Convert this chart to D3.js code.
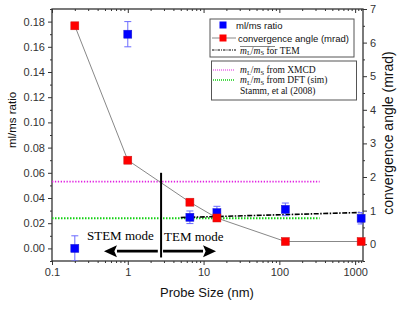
<!DOCTYPE html>
<html><head><meta charset="utf-8">
<script src="https://cdn.jsdelivr.net/npm/d3@7"></script>
<style>body{margin:0;background:#fff}svg{display:block}</style>
</head><body>
<script>
// ---- data ----
const probeSize = [0.2, 1, 6.6, 15, 120, 1200];
const ratio = [0.000, 0.170, 0.0247, 0.0284, 0.031, 0.0239];
const ratioErr = [0.010, 0.010, 0.005, 0.005, 0.005, 0.0045];
const convAngle = [6.5, 2.5, 1.25, 0.78, 0.08, 0.08];
const temFitX = [5, 1200];
const temFitY = [0.0245, 0.0285];
const xmcdValue = 0.053;
const dftValue = 0.024;
const refLineX = [0.1, 340];
const modeBoundary = 2.75;
const xTickLabels = ["0.1", "1", "10", "100", "1000"];
const leftTicks = [0, 0.02, 0.04, 0.06, 0.08, 0.10, 0.12, 0.14, 0.16, 0.18];
const rightTicks = [0, 1, 2, 3, 4, 5, 6, 7];

const W = 397, H = 309;
const L = 52, R = 363, T = 9, B = 261;
const svg = d3.select("body").append("svg").attr("width", W).attr("height", H);
const sans = "'Liberation Sans', Arial, sans-serif";
const serif = "'Liberation Serif', 'Times New Roman', serif";

const x = d3.scaleLog().domain([0.1, 1270]).range([L, R]);
const yL = d3.scaleLinear().domain([-0.01, 0.19]).range([B, T]);
const yR = d3.scaleLinear().domain([-0.5, 7]).range([B, T]);

svg.append("clipPath").attr("id", "c").append("rect")
  .attr("x", L).attr("y", T).attr("width", R - L).attr("height", B - T);

const axisCol = "#333";
const xMajor = xTickLabels.map(Number);
const xMinor = [];
for (let d = 0.1; d < 1000; d *= 10) for (let k = 2; k <= 9; k++) { const v = +(d * k).toPrecision(3); if (v <= 1270) xMinor.push(v); }
xMinor.push(1100, 1200);

// bottom axis
svg.append("g").attr("transform", `translate(0,${B})`)
  .call(d3.axisBottom(x).tickValues(xMajor).tickFormat((d, i) => xTickLabels[i]).tickSize(4).tickSizeOuter(0));
svg.append("g").attr("transform", `translate(0,${B})`)
  .call(d3.axisBottom(x).tickValues(xMinor).tickFormat("").tickSize(2).tickSizeOuter(0));
// top axis (inward)
svg.append("g").attr("transform", `translate(0,${T})`)
  .call(d3.axisBottom(x).tickValues(xMajor).tickFormat("").tickSize(4).tickSizeOuter(0));
svg.append("g").attr("transform", `translate(0,${T})`)
  .call(d3.axisBottom(x).tickValues(xMinor).tickFormat("").tickSize(2).tickSizeOuter(0));
// left axis
svg.append("g").attr("transform", `translate(${L},0)`)
  .call(d3.axisLeft(yL).tickValues(leftTicks).tickFormat(d3.format(".2f")).tickSize(4).tickSizeOuter(0));
svg.append("g").attr("transform", `translate(${L},0)`)
  .call(d3.axisLeft(yL).tickValues(d3.range(-0.01, 0.195, 0.02)).tickFormat("").tickSize(2).tickSizeOuter(0));
// right axis
svg.append("g").attr("transform", `translate(${R},0)`)
  .call(d3.axisRight(yR).tickValues(rightTicks).tickFormat(d3.format("d")).tickSize(4).tickSizeOuter(0));
svg.append("g").attr("transform", `translate(${R},0)`)
  .call(d3.axisRight(yR).tickValues(d3.range(-0.5, 7, 1)).tickFormat("").tickSize(2).tickSizeOuter(0));

svg.selectAll(".domain").remove();
svg.selectAll(".tick line").attr("stroke", axisCol).attr("stroke-width", 1);
svg.selectAll(".tick text").attr("fill", "#333").style("font-family", sans).style("font-size", "11px");
svg.append("rect").attr("x", L).attr("y", T).attr("width", R - L).attr("height", B - T)
  .attr("fill", "none").attr("stroke", axisCol).attr("stroke-width", 1.3);

// axis titles
svg.append("text").attr("transform", `translate(16,120) rotate(-90)`).attr("text-anchor", "middle")
  .style("font-family", sans).style("font-size", "11.5px").attr("fill", "#111").text("ml/ms ratio");
svg.append("text").attr("transform", `translate(393,133) rotate(-90)`).attr("text-anchor", "middle")
  .style("font-family", sans).style("font-size", "14px").attr("fill", "#111").text("convergence angle (mrad)");
svg.append("text").attr("x", 207).attr("y", 297).attr("text-anchor", "middle")
  .style("font-family", sans).style("font-size", "13px").attr("fill", "#111").text("Probe Size (nm)");

const plot = svg.append("g").attr("clip-path", "url(#c)");

// reference lines
plot.append("line").attr("x1", x(refLineX[0])).attr("x2", x(refLineX[1]))
  .attr("y1", yL(xmcdValue)).attr("y2", yL(xmcdValue))
  .attr("stroke", "#e020e0").attr("stroke-width", 1.6).attr("stroke-dasharray", "1.3,1.6");
plot.append("line").attr("x1", x(refLineX[0])).attr("x2", x(refLineX[1]))
  .attr("y1", yL(dftValue)).attr("y2", yL(dftValue))
  .attr("stroke", "#10d010").attr("stroke-width", 2).attr("stroke-dasharray", "1.5,1.5");

// gray connecting line for convergence angle
plot.append("path").datum(probeSize.map((p, i) => [p, convAngle[i]]))
  .attr("d", d3.line().x(d => x(d[0])).y(d => yR(d[1])))
  .attr("fill", "none").attr("stroke", "#888").attr("stroke-width", 1);

// TEM fit dash-dot
plot.append("path").datum(temFitX.map((p, i) => [p, temFitY[i]]))
  .attr("d", d3.line().x(d => x(d[0])).y(d => yL(d[1])))
  .attr("fill", "none").attr("stroke", "#000").attr("stroke-width", 1.6).attr("stroke-dasharray", "5,1.5,1.5,1.5");

// boundary line and arrows
svg.append("line").attr("x1", x(modeBoundary)).attr("x2", x(modeBoundary))
  .attr("y1", yL(0.06)).attr("y2", yL(-0.0072)).attr("stroke", "#000").attr("stroke-width", 2);
const ay = yL(-0.0022);
function arrow(x0, x1) {
  const dir = Math.sign(x1 - x0), hl = 13, hw = 6;
  svg.append("line").attr("x1", x0).attr("x2", x1 - dir * hl).attr("y1", ay).attr("y2", ay)
    .attr("stroke", "#000").attr("stroke-width", 2.6);
  svg.append("path").attr("d", `M${x1},${ay} L${x1 - dir * hl},${ay - hw} L${x1 - dir * hl * 0.8},${ay} L${x1 - dir * hl},${ay + hw} Z`)
    .attr("fill", "#000");
}
arrow(x(2.49), x(0.485));
arrow(x(2.92), x(14.6));
svg.append("text").attr("x", 87).attr("y", 240).style("font-family", serif).style("font-size", "13px").text("STEM mode");
svg.append("text").attr("x", 164).attr("y", 241).style("font-family", serif).style("font-size", "13px").text("TEM mode");

// error bars
const eb = svg.append("g").attr("clip-path", "url(#c)");
probeSize.forEach((p, i) => {
  const cx = x(p), y0 = yL(ratio[i] - ratioErr[i]), y1 = yL(ratio[i] + ratioErr[i]);
  eb.append("line").attr("x1", cx).attr("x2", cx).attr("y1", y0).attr("y2", y1).attr("stroke", "#6a6aff").attr("stroke-width", 1);
  [y0, y1].forEach(yy => eb.append("line").attr("x1", cx - 3.5).attr("x2", cx + 3.5).attr("y1", yy).attr("y2", yy).attr("stroke", "#6a6aff").attr("stroke-width", 1));
});
const s = 8;
svg.append("g").selectAll("rect").data(probeSize).join("rect")
  .attr("x", (d) => x(d) - s / 2).attr("y", (d, i) => yL(ratio[i]) - s / 2)
  .attr("width", s).attr("height", s).attr("fill", "#0000ff").attr("stroke", "#1a1acc").attr("stroke-width", 0.5);
svg.append("g").selectAll("rect").data(probeSize).join("rect")
  .attr("x", (d) => x(d) - s / 2).attr("y", (d, i) => yR(convAngle[i]) - s / 2)
  .attr("width", s).attr("height", s).attr("fill", "#ff0000").attr("stroke", "#cc1a1a").attr("stroke-width", 0.5);

// legend
const lg = svg.append("g");
lg.append("rect").attr("x", 210).attr("y", 19).attr("width", 144).attr("height", 38).attr("fill", "#fff").attr("stroke", "#555").attr("stroke-width", 1);
lg.append("rect").attr("x", 211.5).attr("y", 61).attr("width", 145).attr("height", 39).attr("fill", "#fff").attr("stroke", "#555").attr("stroke-width", 1);
lg.append("rect").attr("x", 219.5).attr("y", 21.5).attr("width", 7).attr("height", 7).attr("fill", "#0000ff");
lg.append("line").attr("x1", 212).attr("x2", 236).attr("y1", 38).attr("y2", 38).attr("stroke", "#888");
lg.append("rect").attr("x", 219.5).attr("y", 34.5).attr("width", 7).attr("height", 7).attr("fill", "#ff0000");
lg.append("line").attr("x1", 212).attr("x2", 236).attr("y1", 50).attr("y2", 50).attr("stroke", "#000").attr("stroke-width", 1).attr("stroke-dasharray", "2.5,1,1,1");
lg.append("line").attr("x1", 213).attr("x2", 235).attr("y1", 70).attr("y2", 70).attr("stroke", "#e020e0").attr("stroke-width", 1.2).attr("stroke-dasharray", "1,1");
lg.append("line").attr("x1", 213).attr("x2", 235).attr("y1", 80).attr("y2", 80).attr("stroke", "#10d010").attr("stroke-width", 1.4).attr("stroke-dasharray", "1,1");
lg.append("text").attr("x", 236).attr("y", 28.5).style("font-family", sans).style("font-size", "9.5px").attr("fill", "#111").text("ml/ms ratio");
lg.append("text").attr("x", 238).attr("y", 41.5).style("font-family", sans).style("font-size", "9.5px").attr("fill", "#111").text("convergence angle (mrad)");
function mathLabel(yy, rest) {
  const t = lg.append("text").attr("x", 240).attr("y", yy).style("font-family", serif).style("font-size", "9.5px").attr("fill", "#111");
  t.append("tspan").style("font-style", "italic").text("m");
  t.append("tspan").attr("dy", 1.5).style("font-size", "6.5px").text("L");
  t.append("tspan").attr("dy", -1.5).text("/");
  t.append("tspan").style("font-style", "italic").text("m");
  t.append("tspan").attr("dy", 1.5).style("font-size", "6.5px").text("S");
  t.append("tspan").attr("dy", -1.5).text(rest);
}
mathLabel(53.5, " for TEM");
lg.append("line").attr("x1", 240).attr("x2", 275).attr("y1", 46.5).attr("y2", 46.5).attr("stroke", "#666").attr("stroke-width", 0.8);
mathLabel(73, " from XMCD");
mathLabel(83, " from DFT (sim)");
lg.append("text").attr("x", 240).attr("y", 94).style("font-family", serif).style("font-size", "9.5px").attr("fill", "#111").text("Stamm, et al (2008)");
</script>
</body></html>
